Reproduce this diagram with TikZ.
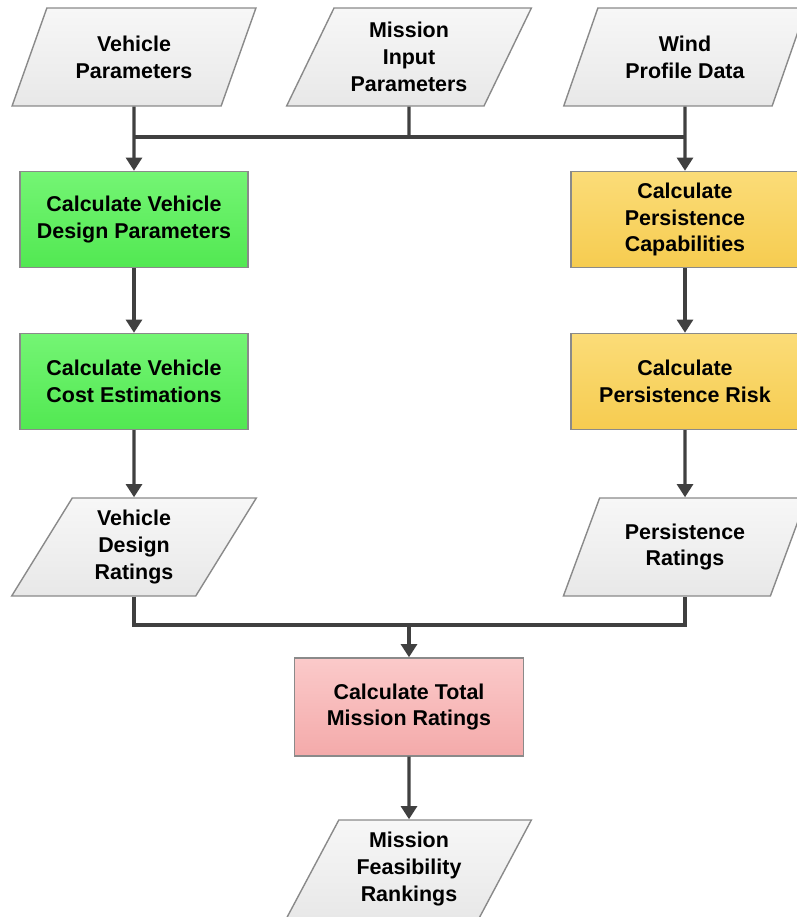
\documentclass[tikz,border=0pt]{standalone}
\usepackage{fontspec}
\setmainfont{Liberation Sans}
\usepackage{tikz}
\usetikzlibrary{shapes.geometric,arrows.meta}
\definecolor{linegray}{HTML}{404040}
\definecolor{edgegray}{HTML}{8A8A8A}
\definecolor{datatop}{HTML}{F7F7F7}
\definecolor{databot}{HTML}{E8E8E8}
\definecolor{greentop}{HTML}{74F574}
\definecolor{greenbot}{HTML}{52E852}
\definecolor{yellowtop}{HTML}{FBDC78}
\definecolor{yellowbot}{HTML}{F6CC50}
\definecolor{redtop}{HTML}{FBCACA}
\definecolor{redbot}{HTML}{F4AAAA}

\begin{document}
\begin{tikzpicture}[x=0.02cm,y=-0.02cm]
\tikzstyle{every node}+=[font=\fontsize{12.2}{15.3}\selectfont\bfseries, align=center, text=black]
\tikzstyle{datanode}=[trapezium, trapezium left angle=62.5, trapezium right angle=117.5, trapezium stretches=true, minimum width=4.9cm, minimum height=1.96cm, inner sep=1pt, draw=edgegray, line width=0.8pt, top color=datatop, bottom color=databot]
\tikzstyle{procnode}=[rectangle, minimum width=4.56cm, minimum height=1.92cm, inner sep=1pt, draw=edgegray, line width=0.8pt]
\tikzstyle{flow}=[draw=linegray, line width=1.9pt]
\tikzstyle{arr}=[flow, -{Triangle[length=7.5pt, width=9pt]}]
\useasboundingbox (0,0) rectangle (796,917);

% inputs
\node [datanode] (vpar) at (134,57) {Vehicle\\Parameters};
\node [datanode] (mpar) at (409,57) {Mission\\Input\\Parameters};
\node [datanode] (wpar) at (685,57) {Wind\\Profile Data};

% vehicle side
\node [procnode, top color=greentop, bottom color=greenbot] (vdes) at (134,219.5) {Calculate Vehicle\\Design Parameters};
\node [procnode, top color=greentop, bottom color=greenbot] (vcost) at (134,381.5) {Calculate Vehicle\\Cost Estimations};
\node [datanode] (vrat) at (134,547) {Vehicle\\Design\\Ratings};

% persistence side
\node [procnode, top color=yellowtop, bottom color=yellowbot] (pcap) at (685,219.5) {Calculate\\Persistence\\Capabilities};
\node [procnode, top color=yellowtop, bottom color=yellowbot] (prisk) at (685,381.5) {Calculate\\Persistence Risk};
\node [datanode] (prat) at (685,547) {Persistence\\Ratings};

% total
\node [procnode, minimum width=4.58cm, minimum height=1.96cm, top color=redtop, bottom color=redbot] (total) at (409,707) {Calculate Total\\Mission Ratings};
\node [datanode] (rank) at (409,869) {Mission\\Feasibility\\Rankings};

\coordinate (jtop) at (409,137);
\coordinate (jbot) at (409,625);

\draw [flow] (vpar.south |- jtop) -- (wpar.south |- jtop);
\draw [flow] (mpar.south) -- (jtop);
\draw [arr] (vpar.south) -- (vdes.north);
\draw [arr] (wpar.south) -- (pcap.north);
\draw [arr] (vdes) -- (vcost);
\draw [arr] (vcost) -- (vrat);
\draw [arr] (pcap) -- (prisk);
\draw [arr] (prisk) -- (prat);
\draw [flow] (vrat.south) |- (jbot) -| (prat.south);
\draw [arr] (jbot) -- (total.north);
\draw [arr] (total) -- (rank);
\end{tikzpicture}
\end{document}
